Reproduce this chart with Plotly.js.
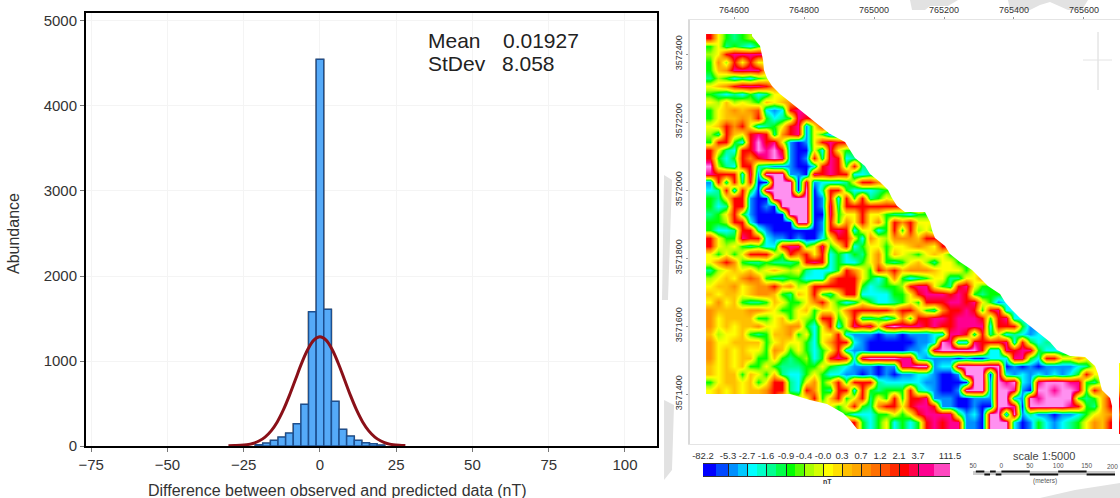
<!DOCTYPE html>
<html>
<head>
<meta charset="utf-8">
<script src="https://cdn.plot.ly/plotly-3.0.1.min.js"></script>
<style>html,body{margin:0;padding:0;background:#fff}#chart{width:1120px;height:498px}</style>
</head>
<body>
<div id="chart"></div>
<script>
// Histogram values
const binCenters = [-20,-17.5,-15,-12.5,-10,-7.5,-5,-2.5,0,2.5,5,7.5,10,12.5,15,17.5,20];
const binCounts  = [15,35,67,106,153,263,490,1580,4550,1610,525,196,118,67,39,27,12];
const curveX = [-30,-28,-26,-24,-22,-20,-18,-16,-14,-12,-10,-8,-6,-4,-2,0,2,4,6,8,10,12,14,16,18,20,22,24,26,28];
const curveY = [3,5,8,15,30,59,105,178,283,424,595,785,975,1135,1246,1285,1246,1135,974,785,595,424,283,178,105,59,30,15,8,5];

// Magnetic map bands, top row first
const mapRows = [
"rygtgl",
"gytgtcg",
"lyrhhhh",
"gnlryry",
"gonhhhho",
"tlgctcgl",
"yonrhhhrn",
"gtctcgcty",
"ylolylgoyon",
"gyonondcscrh",
"gyoonorgctghr",
"yornryctgyrhsyr",
"ltroyrhrtnrhsygs",
"grrgcrprhysbsyrhr",
"rytcrrphprsbbychyg",
"rgcgrnrhphsbsrthrct",
"pltcrrtcsssbbcrhrgrt",
"hrrrchspppssbhrhrrcct",
"srtrtrbbpppbhsccctyrrn",
"ctrcrgbppppbpbtrrgccctg",
"gtyrrsbbpppppbsrcrgrtgyl",
"gctrrsbsbppppbshtrrrrrrr",
"tgyrgsbbbbpppbbhgyyryygttcgg",
"gglrrcbbbbbppbsrgnyryngrnryy",
"gcctrrtsbbbbbbsrhrcyycgrgrlyg",
"rygghrrcssbsbbcyrrycnylnnnorr",
"rylygtgccrhhgyhgyrcgyygyyonoyr",
"ygygyrrrygrnryrcgcgtyngoylgyoyg",
"ynrngttgtttgrhrcgccgyngtgyoltyyg",
"tlyoyolyoylytcccgrnygrnronnnoyyygy",
"lyoyndngttggcccnrrrygcgngctgyyttyyn",
"yoonyonnronlyrrrrrrgctgglrhhygtrhyg",
"oyooyonnogtoyrgtyrrccccggyrhhhrhrgtg",
"ynyogttgoyggynrygctygcctgygrrrhhrhygsc",
"noooonnoyggyogyylnrrrrrnrrogtnrrhrgrhcc",
"nyooooggyogylgrrgyrttgcgngrrhhrhhhrgrhcc",
"nyoyoonyyonngcyrcyhrhyhphhhrhrrhhhhcrrrgs",
"olyyogtgoongycyyrcsssbssbssscchhrtrtyctcsc",
"nyyoooogyoyygcynrrcsbbbbbbsscphcchrrrhcrgct",
"nyoyoyygnogygcgyrcssbbbbbsschppppprcchrhhgcc",
"nyoyooggogtglcgrhrchpppphhcssssbsbbccchhgcrryyny",
"oyoyoggygtttggygtcsssbsshhppsccppppppbsbsbssssctyy",
"oyoogoygotccgygccssbsbsbssccsbbspppbpcscscscscgry",
"gyooyogyrrtcyngyrgrrrtcccccssbbbbppsphpcshppphhgty",
"yoyoyoonrrtcrngtrrcrgtgggrtcsbbspppspphsbpphpphgro",
"............yrgorgyrtygrgrrhsssbbsssppcsphppppgtgor",
"...............ygyrgtnrryrhhrssbbsbbpphbppppphrgtor",
".................gcccggygyrhhhhgscbppspstssbsscgyon",
"..................rgcgycgcgrhrhhssbpppcbsgcsctgynor"
];
const bandLetters = "bsctglyondrhp";
const bandColors = ["#0000ff","#0090ff","#00ffff","#00ff90","#00ff00","#aaff00","#ffff00","#ffc000","#ff9000","#ff5000","#ff0000","#ff0090","#ff90f0"];

// Colour bar
const barLabels = ["-82.2","-5.3","-2.7","-1.6","-0.9","-0.4","-0.0","0.3","0.7","1.2","2.1","3.7","111.5"];
const barTicks  = [0,25,44,63,83,101,120,139,158,177,196,215,247];
const scaleTicks = [-50,0,50,100,150];
const scaleLabels = ["50","0","50","100","150"];

// --- page geometry helpers
const W=1120,H=498;
const dx=(a,b)=>[a/W,b/W];
const dy=(top,bottom)=>[1-bottom/H,1-top/H];
const FONT='"Liberation Sans", Arial, sans-serif';

const nCols=54;
const zTop=mapRows.map(r=>{
  const out=new Array(nCols).fill(null);
  const cells=r.split('');
  let first=cells.findIndex(c=>c!=='.');
  cells.forEach((c,i)=>{ if(c!=='.') out[i]=bandLetters.indexOf(c); });
  // repeat edge cells so the white outline below trims the map, not the cell grid
  for(let i=Math.max(0,first-3);i<first;i++) out[i]=bandLetters.indexOf(cells[first]);
  for(let i=cells.length;i<Math.min(nCols,cells.length+3);i++) out[i]=bandLetters.indexOf(cells[cells.length-1]);
  return out;
});
zTop.push(zTop[zTop.length-1].slice());
const z=zTop.slice().reverse();
const colorscale=bandColors.map((c,i)=>[i/(bandColors.length-1),c]);

const barEdges=[],barZ=[];
barTicks.forEach((t,i)=>{
  if(i===barTicks.length-1){barEdges.push(t);return;}
  barEdges.push(t,(t+barTicks[i+1])/2);
  barZ.push(i,i+0.5);
});

const traces=[
 {type:'bar',x:binCenters,y:binCounts,width:2.75,xaxis:'x',yaxis:'y',hoverinfo:'skip',
  marker:{color:'rgba(0,0,0,0)',line:{color:'#f0b46e',width:1}}},
 {type:'bar',x:binCenters,y:binCounts,width:2.5,xaxis:'x',yaxis:'y',
  marker:{color:'#55aaf8',line:{color:'#1d4f8f',width:1.5}}},
 {type:'scatter',mode:'lines',x:curveX,y:curveY,xaxis:'x',yaxis:'y',
  line:{color:'#8a1018',width:3,shape:'spline'}},
 {type:'heatmap',z:z,x0:764531.4,dx:22.857,y0:3572447-23.53*(zTop.length-1),dy:23.53,
  xaxis:'x2',yaxis:'y2',zmin:0,zmax:12,colorscale:colorscale,showscale:false,zsmooth:'best',hoverongaps:false},
 {type:'heatmap',z:[barZ],x:barEdges,y:[0,1],xaxis:'x3',yaxis:'y3',zmin:0,zmax:12,colorscale:colorscale,showscale:false,zsmooth:false},
 {type:'scatter',mode:'lines',x:[-50,200],y:[0.5,0.5],xaxis:'x4',yaxis:'y4',line:{color:'#cccccc',width:4},hoverinfo:'skip'},
 {type:'scatter',mode:'lines',x:[-45,-30,null,-20,-10,null,0,50,null,100,150],y:[0.75,0.75,null,0.75,0.75,null,0.75,0.75,null,0.75,0.75],xaxis:'x4',yaxis:'y4',line:{color:'#111',width:2},hoverinfo:'skip'},
 {type:'scatter',mode:'lines',x:[-30,-20,null,-10,0,null,50,100,null,150,200],y:[0.25,0.25,null,0.25,0.25,null,0.25,0.25,null,0.25,0.25],xaxis:'x4',yaxis:'y4',line:{color:'#111',width:2},hoverinfo:'skip'}
];

const poly=(pts,color,layer)=>({type:'path',xref:'paper',yref:'paper',layer:layer,fillcolor:color,line:{width:0},
  path:'M'+pts.map(p=>(p[0]/W).toFixed(4)+','+(1-p[1]/H).toFixed(4)).join('L')+'Z'});
const wm=(pts)=>poly(pts,'#e2e2e2','below');

const upperMask=[[752,30],[752,36],[760,46],[763,60],[764,70],[767,78],[772,86],[780,94],[790,102],[800,110],[810,118],[820,126],[830,134],[845,142],[850,150],[855,158],[865,166],[870,174],[880,182],[888,190],[892,198],[897,206],[905,212],[925,212],[930,222],[932,230],[935,238],[945,246],[950,254],[960,262],[972,270],[980,278],[988,286],[1000,294],[1005,302],[1012,310],[1020,318],[1030,326],[1040,334],[1050,342],[1057,350],[1070,356],[1085,357],[1095,366],[1098,374],[1100,382],[1102,390],[1110,398],[1112,406],[1112,429],[1119,429],[1119,30]];
const lowerMask=[[705,394],[790,394],[800,397],[810,400],[827,404],[843,413],[850,420],[857,429],[1119,429],[1119,443],[705,443]];

const note=(x,y,text,size,extra)=>Object.assign({xref:'paper',yref:'paper',x:x/W,y:1-y/H,xanchor:'center',yanchor:'middle',text:text,showarrow:false,font:{size:size,color:'#333'}},extra||{});

const layout={
 width:W,height:H,margin:{l:0,r:0,t:0,b:0},paper_bgcolor:'#fff',plot_bgcolor:'rgba(0,0,0,0)',
 showlegend:false,barmode:'overlay',font:{family:FONT,color:'#333'},
 xaxis:{domain:dx(86,657),anchor:'y',range:[-76.7,110.5],tick0:-75,dtick:25,ticks:'outside',ticklen:4,tickcolor:'#777',
  showgrid:true,gridcolor:'#f4f4f4',zeroline:false,showline:true,linecolor:'#000',linewidth:2,mirror:true,
  tickfont:{size:15,color:'#333'}},
 yaxis:{domain:dy(13,446),anchor:'x',range:[0,5094],dtick:1000,ticks:'outside',ticklen:4,tickcolor:'#777',
  showgrid:true,gridcolor:'#f4f4f4',zeroline:false,showline:true,linecolor:'#000',linewidth:2,mirror:true,
  tickformat:'d',tickfont:{size:15,color:'#333'}},
 xaxis2:{domain:dx(690,1120),anchor:'y2',side:'top',range:[764474,765703],dtick:200,tick0:764600,tickformat:'d',
  ticks:'outside',ticklen:2,tickcolor:'#999',showgrid:false,zeroline:false,showline:true,linecolor:'#e4e4e4',linewidth:1,mirror:true,
  tickfont:{size:9,color:'#333'}},
 yaxis2:{domain:dy(20,444),anchor:'x2',range:[3571253,3572500],dtick:200,tick0:3571400,tickformat:'d',tickangle:-90,
  ticks:'outside',ticklen:2,tickcolor:'#999',showgrid:false,zeroline:false,showline:true,linecolor:'#dadada',linewidth:2,
  tickfont:{size:9,color:'#333'}},
 xaxis3:{domain:dx(703,950),anchor:'y3',side:'top',range:[0,247],tickmode:'array',tickvals:barTicks,ticktext:barLabels,
  ticks:'inside',ticklen:12,tickcolor:'#222',tickwidth:1,showgrid:false,zeroline:false,showline:true,linecolor:'#333',linewidth:1,mirror:true,
  tickangle:0,tickfont:{size:9.5,color:'#333'}},
 yaxis3:{domain:dy(464,476),anchor:'x3',range:[0,1],visible:false,fixedrange:true},
 xaxis4:{domain:dx(973,1115),anchor:'y4',side:'top',range:[-50,200],tickmode:'array',tickvals:scaleTicks,ticktext:scaleLabels,
  ticks:'',showgrid:false,zeroline:false,showline:false,tickangle:0,tickfont:{size:6.5,color:'#555'}},
 yaxis4:{domain:dy(470,476),anchor:'x4',range:[0,1],visible:false,fixedrange:true},
 annotations:[
  note(337,490,'Difference between observed and predicted data (nT)',16),
  note(13,234,'Abundance',16,{textangle:-90}),
  note(426,40,'Mean',21,{xanchor:'left',font:{size:21,color:'#222'}}),
  note(501,40,'0.01927',21,{xanchor:'left',font:{size:21,color:'#222'}}),
  note(426,63,'StDev',21,{xanchor:'left',font:{size:21,color:'#222'}}),
  note(500,63,'8.058',21,{xanchor:'left',font:{size:21,color:'#222'}}),
  note(827,481,'<b>nT</b>',7),
  note(1044,456,'scale 1:5000',11,{font:{size:11,color:'#444'}}),
  note(1045,481,'(meters)',6.5,{font:{size:6.5,color:'#555'}}),
  note(1120,466,'200',6.5,{xanchor:'right',font:{size:6.5,color:'#555'}})
 ],
 shapes:[
  poly(upperMask,'#ffffff','above'),
  poly(lowerMask,'#ffffff','above'),
  wm([[910,0],[958,0],[948,6],[930,6],[925,10],[912,10]]),
  wm([[1008,0],[1088,0],[1082,10],[1068,10],[1050,2],[1040,5],[1030,10],[1010,10]]),
  wm([[664,175],[672,180],[668,300],[662,300]]),
  wm([[664,400],[674,405],[672,470],[664,480]]),
  wm([[1040,498],[1075,490],[1120,483],[1120,498]]),
  {type:'line',xref:'paper',yref:'paper',x0:1098/W,x1:1098/W,y0:1-32/H,y1:1-90/H,line:{color:'#d8d8d8',width:1}},
  {type:'line',xref:'paper',yref:'paper',x0:1083/W,x1:1112/W,y0:1-60/H,y1:1-60/H,line:{color:'#e4e4e4',width:1}}
 ]
};
Plotly.newPlot('chart',traces,layout,{displayModeBar:false,staticPlot:true});
</script>
</body>
</html>
